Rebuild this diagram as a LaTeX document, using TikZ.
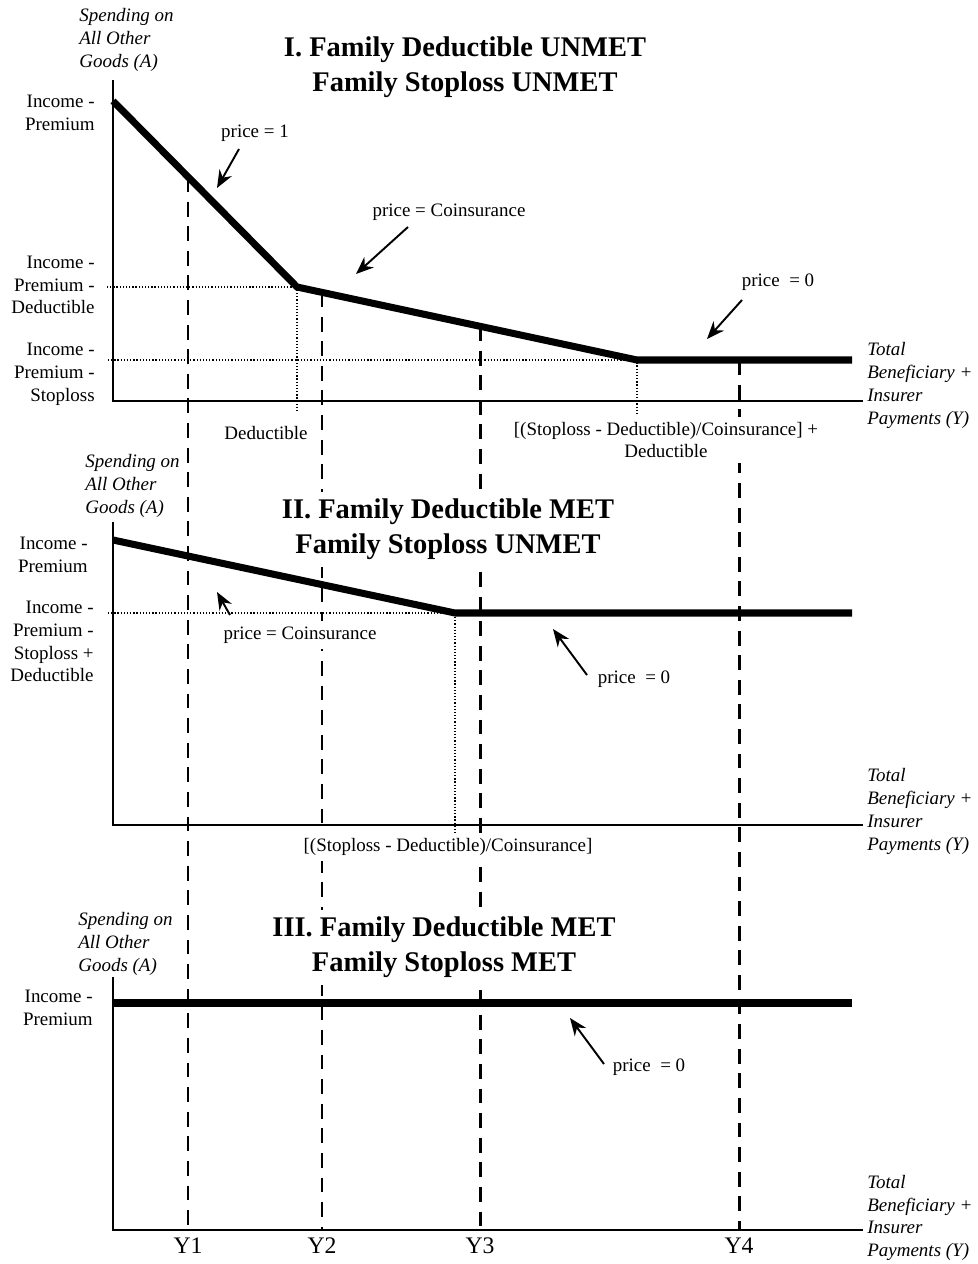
\documentclass[tikz,border=0pt]{standalone}
\usepackage{fontspec}
\setmainfont{Liberation Serif}
\usetikzlibrary{arrows.meta}
\tikzset{
        % Axes of each panel
        line_axis/.style={line width=1.1pt},
        % Budget line (spending on other goods)
        line_budget/.style={line width=4pt},
        % Dotted guide lines
        line_guide/.style={line width=0.6pt, dash pattern=on 0.7pt off 1.1pt},
        % Dashed spending levels Y1..Y4
        line_level/.style={line width=1.7pt, dash pattern=on 8.5pt off 5.5pt},
        % Arrows pointing at the price segments
        line_price/.style={line width=1.1pt, -{Stealth[length=10pt,width=8pt]}},
        % Plain text
        txt/.style={inner sep=0pt, font=\fontsize{10.8}{13}\selectfont},
        % Labels of the spending levels
        txt_level/.style={inner sep=0pt, font=\fontsize{13.5}{16}\selectfont},
        % Labels left of the vertical axis
        txt_axis_y/.style={txt, align=right, anchor=east},
        % Italic axis names
        txt_axis_a/.style={inner sep=0pt, align=left, anchor=west, font=\fontsize{10.8}{13}\selectfont\itshape},
        % Panel titles
        txt_title/.style={align=center, fill=white, inner sep=4pt, font=\fontsize{16.2}{19.8}\selectfont\bfseries},
        % Text that hides the dashed lines
        txt_mask/.style={txt, align=center, fill=white, inner sep=3pt}
}
\begin{document}
\begin{tikzpicture}[x=0.02cm, y=-0.02cm]
    \useasboundingbox (0,0) rectangle (977,1264);

    % spending levels, drawn first so text can hide them
    \coordinate (lv1_top) at (188,177);
    \coordinate (lv2_top) at (322,292);
    \coordinate (lv3_top) at (480,326);
    \coordinate (lv4_top) at (739,360);
    \coordinate (lv1_bot) at (188,1230);
    \coordinate (lv2_bot) at (322,1230);
    \coordinate (lv3_bot) at (480,1230);
    \coordinate (lv4_bot) at (739,1230);
    \draw[line_level] (lv1_top) -- (lv1_bot);
    \draw[line_level] (lv2_top) -- (lv2_bot);
    \draw[line_level] (lv3_top) -- (lv3_bot);
    \draw[line_level] (lv4_top) -- (lv4_bot);
    \node[txt_level] (lv1_lbl) at (188,1246) {Y1};
    \node[txt_level] (lv2_lbl) at (322,1246) {Y2};
    \node[txt_level] (lv3_lbl) at (480,1246) {Y3};
    \node[txt_level] (lv4_lbl) at (739,1246) {Y4};

    % ---- Panel I ----
    \node[txt_title] (p1_title) at (465,67.5) {I. Family Deductible UNMET\\Family Stoploss UNMET};
    \node[txt_axis_a] (p1_alabel) at (79,40) {Spending on\\All Other\\Goods (A)};
    \node[txt_axis_y] (p1_inc1) at (95,113) {Income -\\Premium};
    \node[txt_axis_y] (p1_inc2) at (95,285) {Income -\\Premium -\\Deductible};
    \node[txt_axis_y] (p1_inc3) at (95,374) {Income -\\Premium -\\Stoploss};
    \node[txt_axis_a] (p1_ylabel) at (867,385.5) {Total\\Beneficiary +\\Insurer\\Payments (Y)};
    \node[txt] (p1_ded) at (266,433) {Deductible};
    \node[txt_mask] (p1_sd) at (666,440) {[(Stoploss - Deductible)/Coinsurance] +\\Deductible};

    \coordinate (p1_o) at (113,401);
    \coordinate (p1_ytop) at (113,80);
    \coordinate (p1_xend) at (863,401);
    \coordinate (p1_b0) at (113,101);
    \coordinate (p1_b1) at (297,287);
    \coordinate (p1_b2) at (637,360);
    \coordinate (p1_b3) at (852,360);
    \coordinate (p1_d1) at (107,287);
    \coordinate (p1_d2) at (297,413);
    \coordinate (p1_d3) at (108,360);
    \coordinate (p1_d4) at (637,415);
    \draw[line_guide] (p1_d1) -- (p1_b1) -- (p1_d2);
    \draw[line_guide] (p1_d3) -- (p1_b2) -- (p1_d4);
    \draw[line_axis] (p1_ytop) -- (p1_o) -- (p1_xend);
    \draw[line_budget] (p1_b0) -- (p1_b1) -- (p1_b2) -- (p1_b3);

    \node[txt] (p1_pr1) at (255,133) {price = 1};
    \node[txt] (p1_prc) at (449,212) {price = Coinsurance};
    \node[txt] (p1_pr0) at (778,282) {price~ = 0};
    \coordinate (p1_pr1_tail) at (239,149);
    \coordinate (p1_pr1_tip) at (217,188);
    \coordinate (p1_prc_tail) at (408,227);
    \coordinate (p1_prc_tip) at (356,274);
    \coordinate (p1_pr0_tail) at (742,300);
    \coordinate (p1_pr0_tip) at (707,339);
    \draw[line_price] (p1_pr1_tail) -- (p1_pr1_tip);
    \draw[line_price] (p1_prc_tail) -- (p1_prc_tip);
    \draw[line_price] (p1_pr0_tail) -- (p1_pr0_tip);

    % ---- Panel II ----
    \node[txt_title] (p2_title) at (448,529.5) {II. Family Deductible MET\\Family Stoploss UNMET};
    \node[txt_axis_a] (p2_alabel) at (85,486) {Spending on\\All Other\\Goods (A)};
    \node[txt_axis_y] (p2_inc1) at (88,554.5) {Income -\\Premium};
    \node[txt_axis_y] (p2_inc2) at (94,641.5) {Income -\\Premium -\\Stoploss +\\Deductible};
    \node[txt_axis_a] (p2_ylabel) at (867,811.5) {Total\\Beneficiary +\\Insurer\\Payments (Y)};
    \node[txt_mask] (p2_prc) at (300,635) {price = Coinsurance};
    \node[txt] (p2_pr0) at (634,679) {price~ = 0};

    \coordinate (p2_o) at (113,825);
    \coordinate (p2_ytop) at (113,522);
    \coordinate (p2_xend) at (863,825);
    \coordinate (p2_b0) at (113,540);
    \coordinate (p2_b1) at (455,613);
    \coordinate (p2_b2) at (852,613);
    \coordinate (p2_d1) at (108,613);
    \coordinate (p2_d2) at (455,842);
    \draw[line_guide] (p2_d1) -- (p2_b1) -- (p2_d2);
    \draw[line_axis] (p2_ytop) -- (p2_o) -- (p2_xend);
    \draw[line_budget] (p2_b0) -- (p2_b1) -- (p2_b2);
    \node[txt_mask] (p2_sd) at (448,847) {[(Stoploss - Deductible)/Coinsurance]};

    \coordinate (p2_prc_tail) at (230,615);
    \coordinate (p2_prc_tip) at (217,592);
    \coordinate (p2_pr0_tail) at (587,675);
    \coordinate (p2_pr0_tip) at (553,629);
    \draw[line_price] (p2_prc_tail) -- (p2_prc_tip);
    \draw[line_price] (p2_pr0_tail) -- (p2_pr0_tip);

    % ---- Panel III ----
    \node[txt_title] (p3_title) at (444,947.5) {III. Family Deductible MET\\Family Stoploss MET};
    \node[txt_axis_a] (p3_alabel) at (78,944) {Spending on\\All Other\\Goods (A)};
    \node[txt_axis_y] (p3_inc1) at (93,1008) {Income -\\Premium};
    \node[txt_axis_a] (p3_ylabel) at (867,1218) {Total\\Beneficiary +\\Insurer\\Payments (Y)};
    \node[txt] (p3_pr0) at (649,1067) {price~ = 0};

    \coordinate (p3_o) at (113,1230);
    \coordinate (p3_ytop) at (113,977);
    \coordinate (p3_xend) at (863,1230);
    \coordinate (p3_b0) at (113,1003);
    \coordinate (p3_b1) at (852,1003);
    \draw[line_axis] (p3_ytop) -- (p3_o) -- (p3_xend);
    \draw[line_budget] (p3_b0) -- (p3_b1);

    \coordinate (p3_pr0_tail) at (604,1064);
    \coordinate (p3_pr0_tip) at (570,1018);
    \draw[line_price] (p3_pr0_tail) -- (p3_pr0_tip);
\end{tikzpicture}
\end{document}
